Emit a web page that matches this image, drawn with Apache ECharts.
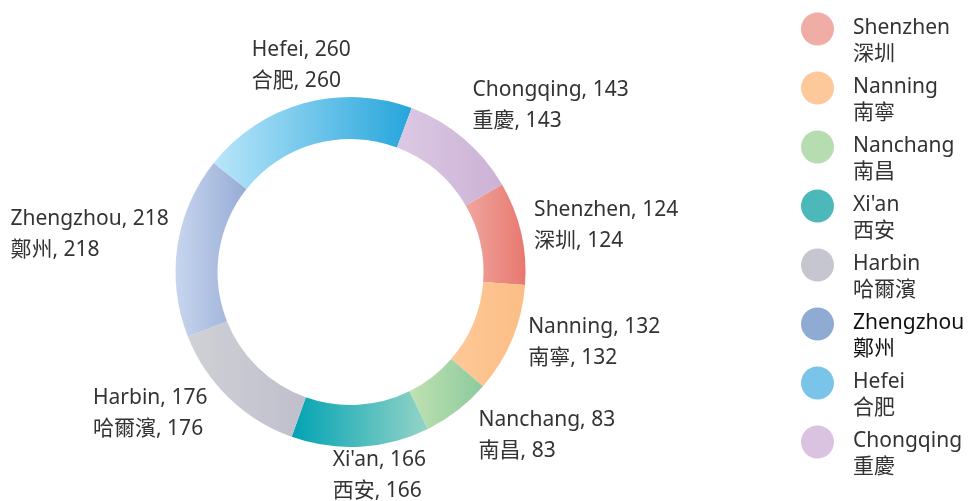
<!DOCTYPE html>
<html>
<head>
<meta charset="utf-8">
<script src="https://cdn.jsdelivr.net/npm/echarts@6/dist/echarts.min.js"></script>
<style>
html,body{margin:0;padding:0;background:#fff;}
#chart{width:970px;height:501px;}
</style>
</head>
<body>
<div id="chart"></div>
<script>
const namesEn = ['Shenzhen', 'Nanning', 'Nanchang', "Xi'an", 'Harbin', 'Zhengzhou', 'Hefei', 'Chongqing'];
const namesZh = ['深圳', '南寧', '南昌', '西安', '哈爾濱', '鄭州', '合肥', '重慶'];
const values = [124, 132, 83, 166, 176, 218, 260, 143];

// styles
const gradFrom = ['#EFA69E', '#FEC998', '#C0E1B0', '#00A3B3', '#D0D1D5', '#C7D6EF', '#BAE6FA', '#DBC9E4'];
const gradTo   = ['#E8786F', '#FCBD85', '#8CCA9E', '#95D4C7', '#BFBFCD', '#97ABD5', '#25A5DB', '#CCB1D5'];
const legendColors = ['#F0ADA6', '#FEC99A', '#B6DDAF', '#4DB8BA', '#C5C6D0', '#8FABD4', '#7BC4E9', '#D9C3E1'];
const labelOffsets = [[13, -8], [16, 3], [21, 25], [-28, 29], [-136, 16], [-167, -12], [-52, -38], [9, -33]];

const CX = 350.5, CY = 272, R0 = 133, R1 = 175, START = 30;
const FONT = '"Noto Sans", "Noto Sans CJK TC", sans-serif';

const total = values.reduce((a, b) => a + b, 0);
const mids = [];
let acc = START;
values.forEach(v => {
  const span = v / total * 360;
  mids.push(acc - span / 2);
  acc -= span;
});

const chart = echarts.init(document.getElementById('chart'), null, {renderer: 'canvas'});
chart.setOption({
  animation: false,
  legend: {
    orient: 'vertical',
    left: 801,
    top: -9,
    padding: 0,
    itemGap: -17,
    itemWidth: 33,
    itemHeight: 33,
    icon: 'circle',
    selectedMode: false,
    data: namesEn.map((n, i) => ({
      name: n,
      itemStyle: {color: legendColors[i]},
      textStyle: n === 'Zhengzhou' ? {color: '#111'} : {}
    })),
    formatter: n => '{sp| }\n' + n + '\n' + namesZh[namesEn.indexOf(n)],
    textStyle: {
      fontFamily: FONT,
      fontSize: 21,
      lineHeight: 26,
      color: '#333',
      padding: [0, 0, 0, 14],
      rich: {
        sp: {fontSize: 2, lineHeight: 24}
      }
    }
  },
  series: [{
    type: 'pie',
    center: [CX, CY],
    radius: [R0, R1],
    startAngle: START,
    clockwise: true,
    avoidLabelOverlap: false,
    data: values.map((v, i) => ({
      name: namesEn[i],
      value: v,
      itemStyle: {
        color: new echarts.graphic.LinearGradient(0, 0, 1, 0, [
          {offset: 0, color: gradFrom[i]},
          {offset: 1, color: gradTo[i]}
        ])
      }
    })),
    label: {
      show: true,
      position: 'outside',
      formatter: p => `${p.name}, ${p.value}\n${namesZh[p.dataIndex]}, ${p.value}`,
      fontFamily: FONT,
      fontSize: 21,
      lineHeight: 31,
      color: '#333',
      align: 'left'
    },
    labelLine: {show: false},
    labelLayout: p => {
      const i = p.dataIndex;
      const a = mids[i] * Math.PI / 180;
      const ax = CX + R1 * Math.cos(a);
      const ay = CY - R1 * Math.sin(a);
      return {
        x: ax + labelOffsets[i][0],
        y: ay + labelOffsets[i][1],
        align: 'left',
        verticalAlign: 'middle'
      };
    },
    emphasis: {disabled: true}
  }]
});
</script>
</body>
</html>
